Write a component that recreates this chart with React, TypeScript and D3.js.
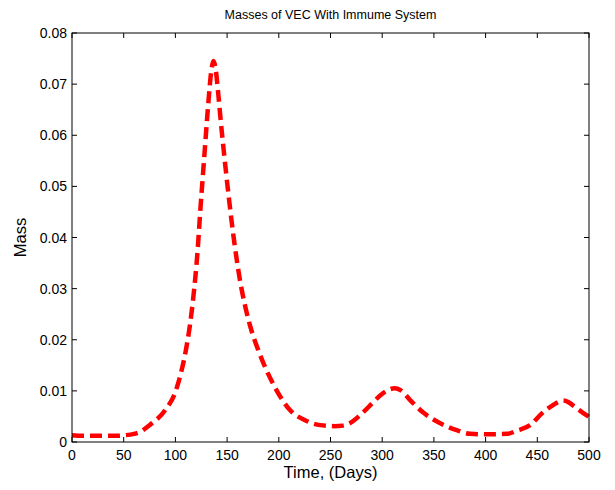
import React from "react";
import * as d3 from "d3";

const days = [0, 10, 20, 30, 40, 50, 60, 66, 75, 90, 100, 105, 110, 114, 117, 121.5, 124, 128, 132, 134.5, 136.8, 139, 141.5, 144, 147, 151, 157, 163, 167, 172, 182, 196, 211, 225, 240, 254, 262, 269, 281, 290, 298, 305, 312, 318, 327, 340, 353, 372, 385, 400, 421, 430, 443, 455, 465, 475, 480, 488, 500];
const mass = [0.0013, 0.0012, 0.0012, 0.0012, 0.0012, 0.0013, 0.0016, 0.002, 0.0033, 0.0062, 0.0098, 0.0132, 0.0178, 0.0228, 0.0277, 0.0375, 0.045, 0.056, 0.0667, 0.0722, 0.0745, 0.0728, 0.068, 0.0625, 0.0565, 0.049, 0.039, 0.031, 0.027, 0.0229, 0.017, 0.0108, 0.0062, 0.0043, 0.0033, 0.0031, 0.0032, 0.0037, 0.0057, 0.0075, 0.0091, 0.0101, 0.0105, 0.0101, 0.0082, 0.0057, 0.004, 0.0023, 0.0016, 0.0015, 0.0016, 0.0022, 0.0033, 0.0057, 0.0072, 0.0081, 0.0078, 0.0066, 0.0049];
const xTicks = [0, 50, 100, 150, 200, 250, 300, 350, 400, 450, 500];
const yTicks = [0, 0.01, 0.02, 0.03, 0.04, 0.05, 0.06, 0.07, 0.08];

const W = 615, H = 490;
const L = 72, R = 589, T = 33, B = 442;

export default function App() {
  const x = d3.scaleLinear().domain([0, 500]).range([L, R]);
  const y = d3.scaleLinear().domain([0, 0.08]).range([B, T]);
  const pts = days.map((d, i) => [d, mass[i]] as [number, number]);
  const line = d3.line<[number, number]>().x(d => x(d[0])).y(d => y(d[1])).curve(d3.curveMonotoneX);
  const font = "'Liberation Sans', Arial, Helvetica, sans-serif";
  const tl = 5;
  return (
    <svg width={W} height={H} style={{ position: "absolute", left: 0, top: 0, background: "#fff" }} fontFamily={font}>
      <rect x={0} y={0} width={W} height={H} fill="#fff" />
      <path d={line(pts) || ""} fill="none" stroke="#ff0000" strokeWidth={4.5} strokeDasharray="12 6" strokeLinejoin="round" />
      <rect x={L} y={T} width={R - L} height={B - T} fill="none" stroke="#000" strokeWidth={1} />
      {xTicks.map(t => (
        <g key={"x" + t}>
          <line x1={x(t)} x2={x(t)} y1={B} y2={B - tl} stroke="#000" />
          <line x1={x(t)} x2={x(t)} y1={T} y2={T + tl} stroke="#000" />
          <text x={x(t)} y={B + 18} textAnchor="middle" fontSize={14} fill="#000">{t}</text>
        </g>
      ))}
      {yTicks.map(t => (
        <g key={"y" + t}>
          <line x1={L} x2={L + tl} y1={y(t)} y2={y(t)} stroke="#000" />
          <line x1={R} x2={R - tl} y1={y(t)} y2={y(t)} stroke="#000" />
          <text x={L - 5} y={y(t) + 5} textAnchor="end" fontSize={14} fill="#000">{t === 0 ? "0" : t.toFixed(2)}</text>
        </g>
      ))}
      <text x={(L + R) / 2} y={19} textAnchor="middle" fontSize={12.5} fill="#000">Masses of VEC With Immume System</text>
      <text x={(L + R) / 2} y={478} textAnchor="middle" fontSize={16.5} fill="#000">Time, (Days)</text>
      <text transform={`translate(26, ${(T + B) / 2}) rotate(-90)`} textAnchor="middle" fontSize={16.5} fill="#000">Mass</text>
    </svg>
  );
}
